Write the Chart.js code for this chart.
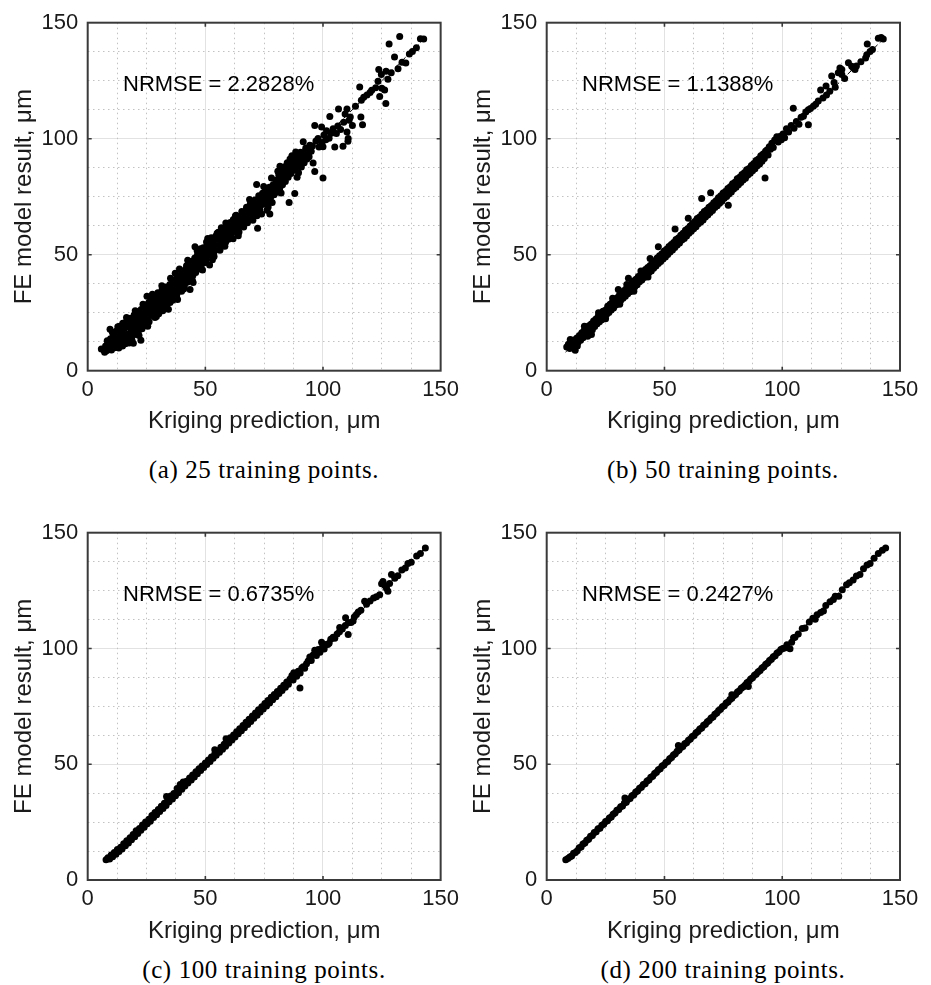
<!DOCTYPE html>
<html>
<head>
<meta charset="utf-8">
<script src="https://cdn.jsdelivr.net/npm/chart.js@4.4.0/dist/chart.umd.min.js"></script>
<style>
  html, body { margin: 0; padding: 0; background: #fff; }
  body { width: 931px; height: 985px; position: relative; overflow: hidden; }
  .panel { position: absolute; width: 465px; height: 440px; }
  .caption { position: absolute; width: 400px; height: 30px; line-height: 30px; text-align: center;
             font-family: "Liberation Serif", serif; font-size: 25px; letter-spacing: 0.6px; color: #000; }
</style>
</head>
<body>
<div class="panel" style="left:0;top:0"><canvas id="cA" width="465" height="440"></canvas></div>
<div class="panel" style="left:465px;top:0"><canvas id="cB" width="465" height="440"></canvas></div>
<div class="panel" style="left:0;top:510px"><canvas id="cC" width="465" height="440"></canvas></div>
<div class="panel" style="left:465px;top:510px"><canvas id="cD" width="465" height="440"></canvas></div>
<div class="caption" style="left:64px;top:455px">(a) 25 training points.</div>
<div class="caption" style="left:523px;top:455px">(b) 50 training points.</div>
<div class="caption" style="left:64px;top:955px">(c) 100 training points.</div>
<div class="caption" style="left:523px;top:955px">(d) 200 training points.</div>
<script>
// ---- data: [Kriging prediction, FE model result] in µm ----
const nrmse = ['2.2828', '1.1388', '0.6735', '0.2427'];
const axisTicks = [0, 50, 100, 150];
const diagLine = [[8, 8], [144, 144]];
const labelAt = [15, 123];

// (a) 25 training points
const pointsA = [
  [5.8,9.4],[6.9,8.8],[7.6,10.6],[8.3,12.9],[8.9,10.1],[9.5,17.9],[9.7,13.8],[10.4,11.6],[10.9,15.2],[11.4,9.9],
  [11.9,13.1],[12.2,17.1],[12.8,11.2],[13.3,14.8],[13.6,19.2],[14.1,12.4],[14.6,16.6],[14.9,20.4],[15.3,13.7],[15.6,18.2],
  [16.0,11.6],[16.4,15.6],[16.7,21.8],[17.1,13.2],[17.4,18.9],[17.8,16.1],[18.2,22.6],[18.5,14.4],[18.9,19.8],[19.4,11.8],
  [19.3,17.2],[19.8,24.1],[20.1,15.6],[20.4,21.2],[20.8,18.4],[21.2,25.3],[21.5,16.8],[21.9,22.6],[22.6,13.1],[22.3,19.9],
  [22.7,26.4],[23.1,18.1],[23.4,23.7],[23.8,21.0],[24.2,27.8],[24.5,19.6],[24.9,25.1],[25.2,32.1],[25.3,22.4],[25.7,28.9],
  [26.1,21.1],[26.4,26.2],[26.8,30.6],[27.1,23.8],[27.5,28.1],[27.9,25.2],[28.3,32.4],[28.6,22.9],[29.0,29.7],[29.4,26.8],
  [29.8,33.6],[30.2,24.6],[30.5,30.9],[30.8,25.8],[31.2,28.2],[31.6,34.8],[32.0,27.1],[32.4,32.2],[32.8,29.5],[33.2,36.1],
  [33.6,28.6],[34.0,33.4],[34.3,26.5],[34.5,30.9],[34.9,37.2],[35.3,32.1],[35.7,35.0],[36.1,30.4],[36.5,38.9],[36.9,33.6],
  [37.2,42.0],[37.4,36.2],[37.8,31.8],[38.2,30.7],[38.3,39.4],[38.7,35.1],[39.1,37.6],[39.5,41.2],[39.9,34.2],[40.3,39.0],
  [40.7,42.8],[41.1,36.6],[41.5,40.2],[41.9,44.1],[42.3,38.1],[42.7,41.7],[43.1,46.0],[43.5,35.0],[43.5,39.6],[43.9,43.3],
  [44.3,47.2],[44.7,41.0],[45.1,44.6],[45.6,53.4],[45.5,48.6],[45.9,42.3],[46.3,46.1],[46.7,50.2],[47.1,43.8],[47.5,47.9],
  [47.9,51.6],[48.3,45.4],[48.7,49.2],[49.1,53.0],[49.5,46.7],[49.9,50.8],[50.5,55.5],[50.4,48.3],[50.8,52.2],[51.2,55.9],
  [51.8,45.6],[51.7,49.9],[52.1,53.6],[52.5,57.3],[52.9,51.0],[53.3,54.7],[53.7,49.2],[54.1,56.4],[54.5,52.6],[55.0,59.2],
  [55.5,59.7],[55.4,54.0],[55.8,57.7],[56.2,51.9],[56.6,55.3],[57.0,59.0],[57.4,53.8],[57.8,57.2],[58.2,61.3],[58.7,63.7],
  [58.6,55.4],[59.0,58.8],[59.4,62.0],[59.8,56.7],[60.2,60.3],[60.6,63.9],[61.0,58.4],[61.4,61.8],[61.8,56.9],[61.9,65.2],
  [62.3,60.0],[62.7,63.4],[63.1,67.0],[63.5,61.6],[63.9,64.9],[64.3,59.8],[64.7,66.5],[65.1,63.2],[65.5,68.6],[65.9,64.6],
  [66.3,61.9],[66.7,67.7],[67.1,65.9],[67.5,70.5],[67.9,63.8],[68.3,68.4],[68.7,66.7],[69.1,71.9],[69.5,69.6],[69.9,65.4],
  [70.3,71.0],[70.7,68.3],[71.1,73.6],[71.8,80.3],[71.5,70.2],[72.2,61.4],[71.9,66.8],[72.3,72.3],[72.7,75.4],[73.1,69.6],
  [73.5,73.8],[73.9,67.5],[74.3,76.5],[74.7,71.7],[75.1,74.6],[75.5,78.6],[75.9,72.4],[76.3,76.2],[76.7,70.6],[77.4,67.5],
  [77.2,79.1],[77.6,74.2],[78.1,83.1],[78.0,77.6],[78.4,72.5],[78.8,80.2],[79.2,75.8],[79.6,78.8],[80.0,82.1],[80.4,76.9],
  [80.8,80.4],[81.2,84.3],[81.7,88.1],[81.6,78.6],[82.0,82.3],[82.4,86.0],[82.8,80.1],[83.2,84.1],[83.6,87.9],[84.0,81.5],
  [84.4,85.7],[84.8,89.6],[85.2,83.4],[85.6,72.5],[85.6,87.2],[86.0,91.2],[86.4,85.0],[86.8,89.0],[87.2,92.4],[87.6,86.4],
  [88.0,76.4],[88.0,90.1],[88.4,94.3],[88.8,88.2],[89.2,92.0],[89.6,85.3],[90.0,90.0],[90.4,94.2],[90.8,87.8],[91.2,91.6],
  [91.6,98.7],[92.0,89.6],[92.3,93.4],[92.7,96.0],[93.2,91.2],[93.6,94.8],[94.1,92.2],[94.4,97.2],[95.0,94.6],[95.5,96.8],
  [95.8,89.5],[96.5,85.9],[96.5,105.7],[97.0,99.0],[97.9,100.1],[98.3,96.4],[99.4,105.0],[99.6,98.4],[100.0,83.1],[100.0,96.5],
  [100.4,101.6],[101.2,99.5],[101.5,103.4],[102.9,109.6],[102.6,100.2],[103.5,102.3],[104.3,104.3],[105.0,96.4],[105.7,102.2],[106.6,112.8],
  [106.3,105.5],[107.5,104.0],[108.5,96.7],[108.8,107.1],[109.4,110.7],[110.2,112.8],[110.2,102.9],[110.6,98.9],[110.7,100.1],[111.1,107.9],
  [111.6,109.4],[112.5,105.7],[113.8,114.0],[115.6,122.3],[116.1,109.3],[116.3,116.6],[116.8,106.0],[117.3,117.9],[118.7,118.8],[120.0,119.9],
  [120.7,120.9],[122.4,122.0],[123.4,124.8],[123.7,129.8],[124.1,118.2],[124.8,127.7],[125.0,121.7],[126.2,121.0],[126.7,115.2],[126.8,129.1],
  [127.6,125.6],[128.1,140.8],[129.0,128.4],[130.4,135.2],[131.9,130.1],[132.6,144.0],[133.6,132.9],[135.2,132.6],[136.7,136.5],[138.0,137.6],
  [139.7,139.2],[141.4,143.1],[142.8,143.0],
  [7.2,7.9],[8.0,8.6],[10.1,8.9],[11.2,12.0],[12.5,14.6],[13.2,9.8],[14.2,15.5],[15.8,15.0],[16.9,19.8],[17.6,11.9],
  [18.6,17.6],[19.9,19.0],[20.6,17.0],[21.5,23.9],[22.1,20.8],[23.0,24.9],[23.6,19.4],[24.6,22.6],[25.6,26.8],[26.3,24.0],
  [27.2,30.0],[28.0,27.4],[28.8,24.8],[29.6,31.5],[30.3,28.4],[31.0,32.6],[31.9,25.8],[32.6,30.3],[33.4,34.4],[34.2,31.7],
  [35.0,29.4],[35.6,36.8],[36.4,34.3],[37.2,38.0],[38.0,33.3],[38.9,40.9],[39.7,36.4],[40.5,40.6],[41.3,38.3],[42.1,42.6],
  [43.0,40.4],[43.8,45.0],[44.5,38.9],[45.3,46.8],[46.1,44.4],[47.0,48.4],[47.8,46.3],[48.6,51.1],[49.4,48.6],[50.2,46.6],
  [51.0,54.1],[51.9,51.5],[52.8,55.2],[53.6,50.8],[54.5,58.1],[55.3,52.3],[56.1,57.2],[57.0,55.0],[57.8,60.5],[58.7,57.0],
  [59.6,60.4],[60.4,62.2],[61.2,59.8],[62.1,63.9],[63.0,62.0],[63.8,66.1],[64.6,62.4],[65.5,66.0],[66.4,63.5],[67.3,69.1],
  [68.1,66.2],[69.0,70.0],[69.8,67.8],[70.8,72.6],[71.6,69.0],[72.5,74.0],[73.4,71.2],[74.3,73.5],[75.2,76.8],[76.1,74.1],
  [77.0,77.6],[77.9,75.3],[78.8,78.1],[79.8,80.5],[80.7,78.4],[81.6,82.8],[82.6,84.6],[83.5,82.6],[84.5,87.4],[85.5,85.6],
  [86.5,88.0],[87.4,90.6],[88.6,86.6],[89.5,90.8],[90.6,92.4],[91.6,90.2],[92.6,95.0],[93.8,93.2],
  [9.0,11.8],[10.8,13.9],[12.0,10.3],[13.9,17.5],[15.0,12.0],[16.2,19.6],[17.0,14.6],[18.0,20.6],[19.0,16.0],[20.0,22.5],
  [21.0,19.4],[22.0,24.4],[23.0,21.6],[24.0,25.9],[25.0,20.6],[26.0,29.4],[27.0,26.6],[28.0,30.8],[29.0,27.6],[30.0,32.2],
  [31.0,29.6],[32.0,35.6],[33.0,31.2],[34.0,36.0],[35.0,33.3],[36.0,37.6],[37.0,34.8],[38.0,40.2],[39.0,38.7],[40.0,43.0],
  [41.0,39.4],[42.0,45.2],[43.0,42.8],[44.0,46.0],[45.0,43.0],[46.0,48.6],[47.0,45.6],[48.0,52.6],[49.0,47.6],[50.0,53.0],
  [10.5,16.6],[12.8,18.9],[14.8,10.6],[16.5,22.9],[18.8,13.2],[20.2,25.8],[21.8,15.2],[23.5,28.6],[25.5,19.2],[27.5,32.9],
  [29.2,23.4],[31.5,36.6],[33.0,26.8],[35.2,39.8],[36.8,31.2],[39.0,43.8],[40.8,35.2],[42.5,47.6],[44.8,38.0],[46.5,51.8],
  [48.8,43.4],[51.0,57.0],[53.0,47.8],[56.8,61.6],[58.3,53.6],[62.8,66.8],[64.0,58.2],[68.8,73.8],[70.2,64.8],[74.8,79.4],
  [76.2,69.2],[80.8,86.0],[82.2,76.6],[86.8,92.6],[89.0,83.4]
];

// (b) 50 training points
const pointsB = [
  [8.5,10.2],[9.2,11.4],[9.8,9.6],[10.4,12.3],[11.0,10.8],[12.1,8.8],[11.6,13.2],[12.2,11.0],[12.8,14.1],[13.3,12.2],
  [13.9,15.2],[14.4,13.1],[14.9,16.4],[15.4,14.2],[15.9,17.3],[16.4,15.1],[16.9,18.2],[17.4,14.8],[17.9,19.4],[18.4,17.1],
  [18.9,20.1],[19.4,17.6],[19.9,21.4],[20.4,19.0],[20.9,22.3],[21.4,20.2],[21.9,23.5],[22.4,21.1],[22.9,24.4],[23.4,22.0],
  [23.9,25.6],[24.4,23.4],[24.9,26.1],[25.4,24.2],[25.9,27.8],[26.4,25.1],[26.9,28.6],[27.4,26.2],[27.9,29.5],[28.4,27.0],
  [28.9,30.7],[29.4,28.3],[29.9,31.4],[30.4,35.0],[30.4,29.2],[30.9,32.6],[31.4,30.3],[31.9,33.4],[32.4,31.2],[32.9,34.6],
  [33.4,32.1],[33.9,35.5],[34.7,39.9],[34.4,33.2],[34.9,36.6],[35.4,34.0],[35.9,37.5],[36.4,35.1],[36.9,38.7],[37.4,36.2],
  [37.9,39.4],[38.4,37.0],[38.9,40.6],[39.4,38.3],[39.9,41.3],[40.4,39.1],[40.9,42.4],[41.4,40.2],[41.9,43.6],[42.4,41.1],
  [42.9,44.5],[43.9,48.4],[43.4,42.3],[43.9,45.3],[44.4,43.0],[44.9,46.6],[45.4,44.2],[45.9,47.4],[46.4,45.1],[47.4,53.4],
  [46.9,48.6],[47.4,46.2],[47.9,49.5],[48.4,47.1],[48.9,50.4],[49.4,48.2],[49.9,51.6],[50.4,49.0],[50.9,52.3],[51.4,50.1],
  [51.9,53.5],[52.4,51.2],[52.9,54.4],[53.4,52.0],[53.9,55.3],[54.5,61.1],[54.4,53.1],[54.9,56.5],[55.4,54.2],[55.9,57.2],
  [56.4,55.0],[56.9,58.4],[57.4,56.3],[57.9,59.2],[58.4,57.0],[58.9,60.5],[59.4,58.1],[59.9,61.3],[60.1,65.7],[60.4,59.2],
  [60.9,62.4],[61.4,60.1],[61.9,63.5],[62.4,61.2],[62.9,64.3],[63.4,62.0],[63.9,65.6],[64.4,63.3],[64.9,66.2],[65.8,74.2],
  [65.4,64.1],[65.9,67.4],[66.4,65.0],[66.9,68.6],[67.4,66.2],[67.9,69.3],[68.4,67.1],[68.9,70.5],[69.6,76.7],[69.4,68.2],
  [69.9,71.2],[70.4,69.0],[70.9,72.4],[71.4,70.3],[71.9,73.3],[72.4,71.1],[72.9,74.6],[73.4,72.2],[73.9,75.4],[74.4,73.0],
  [74.9,76.6],[75.4,74.3],[75.9,77.2],[76.4,75.1],[77.1,71.3],[76.9,78.5],[77.4,76.2],[77.9,79.3],[78.4,77.0],[78.9,80.6],
  [79.4,78.3],[79.9,81.2],[80.4,79.1],[80.9,82.7],[81.4,80.2],[81.9,83.4],[82.4,81.1],[82.9,84.6],[83.4,82.2],[83.9,85.3],
  [84.4,83.0],[84.9,86.6],[85.4,84.3],[85.9,87.2],[86.4,85.1],[86.9,88.5],[87.4,86.2],[87.9,89.3],[88.4,87.0],[88.9,90.6],
  [89.4,88.3],[89.9,91.2],[90.4,89.1],[90.9,92.7],[91.4,90.3],[91.9,93.4],[92.7,83.1],[92.4,91.5],[92.9,94.6],[93.5,95.1],
  [94.0,93.0],[94.5,96.5],[95.0,95.4],[95.6,98.0],[96.2,96.2],[96.8,99.4],[97.7,100.8],[98.3,98.6],[99.0,101.0],[99.6,99.5],
  [100.3,102.0],[101.0,100.4],[101.8,104.3],[102.7,102.9],[103.8,105.7],[104.7,113.1],[105.0,104.5],[106.0,107.4],[107.1,106.2],[108.0,109.2],
  [109.0,109.7],[110.0,111.5],[111.1,112.5],[111.1,106.0],[112.0,113.0],[113.2,114.0],[114.2,114.9],[115.3,116.3],[116.3,121.0],[117.3,117.5],
  [118.6,122.7],[118.8,118.8],[120.2,120.4],[121.0,127.0],[122.0,124.2],[122.5,122.2],[123.8,128.4],[124.5,130.5],[125.3,127.7],[125.3,129.8],
  [126.5,126.0],[128.1,132.7],[129.5,131.2],[130.2,130.5],[130.9,129.8],[131.5,131.3],[133.4,133.2],[135.4,134.8],[135.9,136.2],[136.1,140.8],
  [137.3,137.6],[138.3,138.4],[140.8,143.3],[142.0,143.6],[142.9,143.0],
  [10.0,13.4],[13.0,10.6],[16.0,19.2],[19.0,15.6],[22.0,25.0],[25.0,22.4],[28.0,31.2],[31.0,28.6],[34.0,37.2],[37.0,34.2],
  [40.0,43.0],[43.0,40.4]
];

// (c) 100 training points
const pointsC = [
  [7.8,8.8],[8.6,9.6],[9.3,9.1],[10.0,10.8],[10.6,10.0],[11.3,11.9],[12.0,11.1],[12.6,13.2],[13.3,12.3],[14.0,14.1],
  [14.6,13.4],[15.3,15.7],[16.0,14.8],[16.6,16.9],[17.3,16.0],[18.0,18.2],[18.6,17.4],[19.3,19.6],[20.0,18.7],[20.6,21.3],
  [21.3,20.1],[22.0,22.2],[22.6,21.5],[23.3,23.8],[24.0,22.8],[24.6,25.1],[25.3,24.3],[26.0,26.2],[26.6,25.4],[27.3,27.9],
  [28.0,27.0],[28.6,29.1],[29.3,28.2],[30.0,30.4],[30.6,29.6],[31.3,31.8],[32.0,30.9],[32.6,33.1],[33.5,36.1],[33.3,32.2],
  [34.0,35.0],[34.6,33.8],[35.3,36.3],[36.0,35.0],[36.6,37.4],[37.3,36.4],[38.0,39.5],[38.6,37.7],[39.3,41.2],[40.0,39.2],
  [40.6,42.3],[41.3,40.6],[42.0,42.6],[42.6,41.9],[43.3,44.1],[44.0,43.2],[44.6,45.4],[45.3,44.5],[46.0,46.8],[46.6,45.9],
  [47.3,48.1],[48.0,47.3],[48.6,49.2],[49.3,48.6],[50.0,50.5],[50.6,49.9],[51.3,51.8],[52.0,51.2],[52.6,53.1],[53.3,52.6],
  [54.0,56.3],[54.0,54.4],[54.6,53.9],[55.3,55.8],[56.0,55.2],[56.6,57.3],[57.3,56.5],[58.0,58.6],[58.8,61.0],[58.6,57.8],
  [59.3,59.9],[60.0,59.2],[60.6,61.4],[61.3,60.5],[62.0,62.6],[62.6,61.8],[63.3,64.0],[64.0,63.2],[64.6,65.3],[65.3,64.5],
  [66.0,66.7],[66.6,65.8],[67.3,68.1],[68.0,67.2],[68.6,69.4],[69.3,68.5],[70.0,70.8],[70.6,69.9],[71.3,72.1],[72.0,71.2],
  [72.6,73.5],[73.3,72.6],[74.0,74.8],[74.6,73.9],[75.3,76.2],[76.0,75.2],[76.6,77.5],[77.3,76.5],[78.0,78.9],[78.6,77.8],
  [79.3,80.1],[80.0,79.2],[80.6,81.4],[81.3,80.5],[82.0,82.8],[82.6,81.8],[83.3,84.1],[84.0,83.2],[84.6,85.5],[85.3,84.5],
  [86.0,86.8],[86.8,88.3],[87.6,89.5],[87.3,86.4],[88.0,88.6],[88.8,88.0],[89.5,90.2],[90.2,82.9],[90.3,89.4],[91.0,91.6],
  [91.6,92.1],[92.2,91.5],[93.0,93.4],[93.7,94.6],[94.4,96.3],[95.0,94.8],[95.8,97.2],[96.5,99.2],[97.2,97.0],[98.0,99.5],
  [98.7,98.4],[99.4,102.7],[99.8,100.6],[100.5,99.8],[101.2,101.7],[102.0,101.7],[102.6,102.3],[103.3,104.0],[104.3,104.8],[105.0,104.4],
  [106.0,106.3],[107.1,109.1],[107.0,107.2],[108.2,108.4],[109.6,113.3],[109.5,109.9],[110.7,106.0],[110.8,111.1],[111.9,111.2],[112.8,111.9],
  [113.3,113.6],[114.2,114.7],[115.0,115.8],[116.1,116.5],[117.7,120.4],[118.5,119.1],[120.0,120.5],[121.5,121.8],[122.7,122.3],[124.1,123.2],
  [124.9,128.0],[125.5,128.9],[126.3,127.2],[127.6,124.7],[127.0,126.0],[128.3,128.1],[129.1,132.0],[130.5,130.3],[131.8,131.4],[133.5,133.9],
  [135.0,134.8],[136.1,136.7],[137.5,137.2],[139.8,139.9],[141.4,141.0],[143.5,143.4]
];

// (d) 200 training points
const pointsD = [
  [8.1,8.8],[9.0,9.3],[9.8,9.9],[10.6,10.4],[11.4,11.6],[12.2,11.9],[13.0,12.6],[13.8,13.9],[14.6,14.3],[15.4,15.5],
  [16.2,16.0],[17.0,17.2],[17.8,17.6],[18.6,18.9],[19.4,19.2],[20.2,20.5],[21.0,20.8],[21.8,22.1],[22.6,22.4],[23.4,23.6],
  [24.2,24.1],[25.0,25.3],[25.8,25.6],[26.6,26.8],[27.4,27.2],[28.2,28.4],[29.0,28.9],[29.8,30.1],[30.6,30.4],[31.4,31.6],
  [32.2,32.0],[33.2,35.4],[33.0,33.3],[33.8,33.6],[34.6,34.9],[35.4,35.2],[36.2,36.4],[37.0,36.8],[37.8,38.0],[38.6,38.4],
  [39.4,39.6],[40.2,40.1],[41.0,41.2],[41.8,41.6],[42.6,42.8],[43.4,43.2],[44.2,44.4],[45.0,44.8],[45.8,46.0],[46.6,46.5],
  [47.4,47.6],[48.2,48.0],[49.0,49.2],[49.8,49.7],[50.6,50.8],[51.4,51.2],[52.2,52.4],[53.0,52.9],[53.8,54.0],[54.6,54.5],
  [55.9,58.1],[55.4,55.6],[56.2,56.1],[57.0,57.2],[57.8,57.7],[58.6,58.8],[59.4,59.3],[60.2,60.4],[61.0,60.9],[61.8,62.0],
  [62.6,62.4],[63.4,63.6],[64.2,64.1],[65.0,65.2],[65.8,65.6],[66.6,66.8],[67.4,67.3],[68.2,68.4],[69.0,68.9],[69.8,70.0],
  [70.6,70.4],[71.4,71.6],[72.2,72.1],[73.0,73.2],[73.8,73.7],[74.6,74.8],[75.4,75.3],[76.2,76.4],[77.0,76.9],[77.8,78.0],
  [78.6,80.0],[78.6,78.5],[79.4,79.6],[80.2,80.1],[81.0,81.2],[81.8,81.7],[82.6,82.8],[83.4,83.4],[84.2,84.1],[85.6,83.6],
  [85.0,85.2],[85.8,85.7],[86.6,86.8],[87.4,87.3],[88.2,88.4],[89.0,89.0],[89.8,89.9],[90.6,90.5],[91.4,91.6],[92.2,92.1],
  [93.0,93.2],[93.8,93.7],[94.6,94.8],[95.4,95.3],[96.2,96.4],[97.0,96.9],[97.8,98.0],[98.6,98.5],[99.4,99.6],[100.2,100.0],
  [101.0,100.2],[102.0,101.6],[103.3,99.9],[104.0,102.7],[104.8,104.6],[105.4,104.8],[106.8,106.2],[108.5,108.6],[109.7,108.8],[111.5,111.4],
  [113.0,113.1],[114.0,112.6],[114.8,114.6],[116.3,115.5],[117.5,116.2],[118.5,118.6],[120.3,120.2],[121.7,121.1],[122.5,122.6],[124.0,122.5],
  [125.5,125.4],[127.3,127.5],[128.5,128.4],[130.1,129.6],[131.5,131.3],[133.0,132.0],[134.5,134.4],[136.0,136.1],[137.3,136.7],[139.0,139.0],
  [140.8,141.0],[142.5,142.4],[143.9,143.4]
];

// ---- drawing ----
Chart.defaults.font.family = '"Liberation Sans", Arial, sans-serif';
Chart.defaults.color = '#1a1a1a';

const toXY = pts => pts.map(([x, y]) => ({ x, y }));

// box, inward ticks and the NRMSE note (MATLAB-style axes)
const framePlugin = {
  id: 'frame',
  afterDraw(chart, args, opts) {
    const { ctx, chartArea: a, scales } = chart;
    ctx.save();
    ctx.strokeStyle = '#3a3a3a';
    ctx.lineWidth = 1.6;
    ctx.beginPath();
    axisTicks.slice(1, -1).forEach(v => {
      const px = scales.x.getPixelForValue(v);
      const py = scales.y.getPixelForValue(v);
      ctx.moveTo(px, a.bottom); ctx.lineTo(px, a.bottom - 4);
      ctx.moveTo(px, a.top); ctx.lineTo(px, a.top + 4);
      ctx.moveTo(a.left, py); ctx.lineTo(a.left + 4, py);
      ctx.moveTo(a.right, py); ctx.lineTo(a.right - 4, py);
    });
    ctx.stroke();
    ctx.lineWidth = 2;
    ctx.strokeRect(a.left, a.top, a.right - a.left, a.bottom - a.top);

    ctx.fillStyle = '#000';
    ctx.font = '22px "Liberation Sans", Arial, sans-serif';
    ctx.textAlign = 'left';
    ctx.textBaseline = 'middle';
    ctx.fillText('NRMSE = ' + opts.nrmse + '%',
      scales.x.getPixelForValue(labelAt[0]), scales.y.getPixelForValue(labelAt[1]));
    ctx.restore();
  }
};

function minorGrid(axisId, position) {
  return {
    type: 'linear', position, min: 0, max: 150,
    ticks: { display: false, stepSize: 12.5 },
    grid: {
      drawTicks: false, lineWidth: 1,
      color: c => (c.tick && c.tick.value % 50 === 0) ? 'rgba(0,0,0,0)' : '#c2c2c2'
    },
    border: { display: false, dash: [1.5, 3.5] },
    afterFit: s => { if (axisId === 'x') s.height = 0; else s.width = 0; }
  };
}

function makePanel(id, points, note, g) {
  new Chart(document.getElementById(id), {
    type: 'scatter',
    data: {
      datasets: [
        {
          data: toXY(points),
          pointRadius: 3.5,
          pointBackgroundColor: '#000',
          pointBorderWidth: 0,
          pointHoverRadius: 3.5
        },
        {
          data: toXY(diagLine),
          showLine: true,
          borderColor: '#000',
          borderWidth: 1,
          borderDash: [6, 3],
          pointRadius: 0
        }
      ]
    },
    options: {
      responsive: false,
      animation: false,
      events: [],
      layout: { padding: { top: g.top, right: g.right, left: 0, bottom: 0 } },
      plugins: {
        legend: { display: false },
        tooltip: { enabled: false },
        frame: { nrmse: note }
      },
      scales: {
        x: {
          type: 'linear', position: 'bottom', min: 0, max: 150,
          ticks: { stepSize: 50, padding: 6, font: { size: 22 }, color: '#1a1a1a' },
          grid: { color: '#e2e2e2', lineWidth: 1, drawTicks: false },
          border: { display: false },
          title: { display: true, text: 'Kriging prediction, μm', font: { size: 24, lineHeight: 1 },
                   padding: { top: 0, bottom: g.xTitlePad }, color: '#1a1a1a' },
          afterFit: s => { s.height = g.bottomH; }
        },
        y: {
          type: 'linear', position: 'left', min: 0, max: 150,
          ticks: { stepSize: 50, padding: 9.5, font: { size: 22 }, color: '#1a1a1a' },
          grid: { color: '#e2e2e2', lineWidth: 1, drawTicks: false },
          border: { display: false },
          title: { display: true, text: 'FE model result, μm', font: { size: 24, lineHeight: 1 },
                   padding: { top: g.yTitlePad, bottom: 0 }, color: '#1a1a1a' },
          afterFit: s => { s.width = g.leftW; }
        },
        x2: minorGrid('x', 'bottom'),
        y2: minorGrid('y', 'left')
      }
    },
    plugins: [framePlugin]
  });
}

const leftPanel = { top: 17.3, right: 24, leftW: 87.7, bottomH: 69.3, xTitlePad: 7, yTitlePad: 12.5 };
const rightPanel = { top: 17.3, right: 30, leftW: 81.7, bottomH: 69.3, xTitlePad: 7, yTitlePad: 6.8 };

makePanel('cA', pointsA, nrmse[0], leftPanel);
makePanel('cB', pointsB, nrmse[1], rightPanel);
makePanel('cC', pointsC, nrmse[2], Object.assign({}, leftPanel, { bottomH: 70 }));
makePanel('cD', pointsD, nrmse[3], Object.assign({}, rightPanel, { bottomH: 70 }));
</script>
</body>
</html>
